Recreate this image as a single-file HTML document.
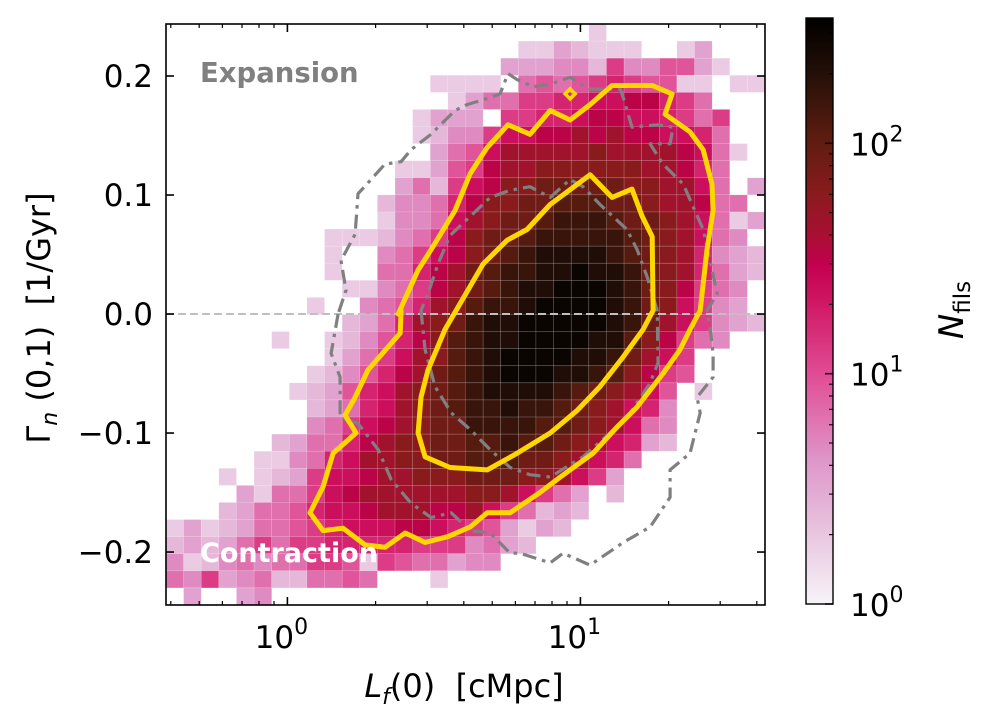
<!DOCTYPE html>
<html><head><meta charset="utf-8"><style>
html,body{margin:0;padding:0;background:#fff;}
svg text{font-family:"DejaVu Sans","Liberation Sans",sans-serif;}
</style></head><body>
<svg id="chart" width="985" height="717" viewBox="0 0 985 717" xmlns="http://www.w3.org/2000/svg">
<defs>
<linearGradient id="cbgrad" x1="0" y1="1" x2="0" y2="0"></linearGradient>
<clipPath id="plotclip"><rect x="166" y="24" width="599" height="581"/></clipPath>
</defs>
<g id="cells" clip-path="url(#plotclip)"></g>
<g id="overlay" clip-path="url(#plotclip)"></g>
<g id="axes"></g>
<g id="cbar"></g>
</svg>
<script>
// ---- data ----
const xLogMin = -0.4143, xLogMax = 1.6300;
const yMin = -0.2445, yMax = 0.2437;
const nBins = 34;
// half-level codes per cell (char value/2 = level), row 0 = top
const gridRows = [
"0000000000000000000000002000000000",
"0000000000000000000022432220024000",
"0000000000000000000444553855774200",
"0000000000000002222067678987722022",
"000000000000000024668899aabb986000",
"00000000000000244408899abbaa986800",
"0000000000000023558aabbcbcbbaa9600",
"000000000000000467acccccdccccba620",
"000000000000022478bccddddddccb9600",
"00000000000004638abddeeeeeddcca604",
"00000000000035569bddeefffeedccb660",
"0000000000002556acdeefgggfeedca624",
"0000000002223568bdeefgggggfedca650",
"000000000200568abdefghhhhgfedc9543",
"000000000200669bcefgghhihhgedc9643",
"000000000022568bcefghhiiihgedb8650",
"000000002005679cdfgghiiiihgeda8540",
"00000000003469cdeghhiiiiihgeca8543",
"00000020023579bdfghhiiiihhfdb86500",
"0000000002468acdfghiiiihhgeca80000",
"0000000023579bcefghiiihhgfdb870000",
"000000023479acdefghhhhgfedca702000",
"000000003469acdefgghggfedca9500000",
"00000000568abcdeeggggffedca6500000",
"00000034669bcddeeffgffedca94300000",
"0000022569accddeefffeedca960000000",
"000202348aabccdddeeeddca8400000000",
"000042668abccccccddca8640300000000",
"000346679aabcccbbca863430000000000",
"2423466789aaabba987424300000000000",
"3434686889999988856430000000000000",
"5235656688728766455000000000000000",
"6584563366760002000000000000000000",
"0400450000000000000000000000000000"
];
const xTickValues = [1, 10];
const xTickLabels = ["0", "1"];
const xMinorValues = [0.4,0.5,0.6,0.7,0.8,0.9,2,3,4,5,6,7,8,9,20,30,40];
const yTickValues = [-0.2, -0.1, 0.0, 0.1, 0.2];
const yTickLabels = ["\u22120.2", "\u22120.1", "0.0", "0.1", "0.2"];
const cbMax = 350;
const cbTickValues = [1, 10, 100];
const cbTickLabels = ["0", "1", "2"];
const cbMinorValues = [2,3,4,5,6,7,8,9,20,30,40,50,60,70,80,90,200,300];
// contours (log10 L, Gamma)
const yellowOuterX = [0.388,0.385,0.275,0.231,0.197,0.234,0.156,0.122,0.077,0.122,0.190,0.265,0.333,0.402,0.470,0.548,0.624,0.682,0.760,0.862,0.931,1.043,1.125,1.194,1.282,1.340,1.374,1.409,1.432,1.453,1.449,1.419,1.374,1.289,1.313,1.245,1.108,1.033,0.965,0.897,0.828,0.753,0.682,0.624,0.572,0.490,0.446,0.378];
const yellowOuterY = [0.003,-0.016,-0.047,-0.070,-0.085,-0.100,-0.117,-0.145,-0.167,-0.182,-0.180,-0.194,-0.196,-0.184,-0.192,-0.187,-0.179,-0.167,-0.167,-0.150,-0.137,-0.117,-0.095,-0.078,-0.050,-0.030,-0.013,0.003,0.054,0.087,0.109,0.138,0.153,0.168,0.185,0.192,0.192,0.176,0.163,0.171,0.151,0.159,0.140,0.118,0.087,0.054,0.037,0.000];
const yellowIslandX = [0.965];
const yellowIslandY = [0.185];
const yellowInnerX = [0.583,0.668,0.750,0.818,0.897,1.033,1.108,1.176,1.211,1.245,1.248,1.214,1.146,1.067,0.989,0.897,0.784,0.682,0.555,0.470,0.446,0.456,0.480,0.538];
const yellowInnerY = [0.006,0.042,0.062,0.071,0.092,0.117,0.098,0.105,0.082,0.065,0.003,-0.013,-0.036,-0.061,-0.081,-0.100,-0.117,-0.131,-0.129,-0.120,-0.100,-0.070,-0.047,-0.013];
const grayInnerX = [0.456,0.470,0.504,0.559,0.624,0.692,0.760,0.828,0.897,1.009,1.101,1.170,1.238,1.265,1.262,1.228,1.194,1.159,1.067,1.009,0.965,0.897,0.828,0.760,0.692,0.624,0.555,0.514,0.480];
const grayInnerY = [0.003,-0.030,-0.061,-0.083,-0.097,-0.114,-0.129,-0.135,-0.137,-0.120,-0.100,-0.083,-0.058,-0.041,0.003,0.031,0.054,0.071,0.092,0.107,0.113,0.098,0.107,0.104,0.098,0.082,0.066,0.042,0.017];
const grayOuterX = [0.173,0.149,0.180,0.180,0.241,0.310,0.354,0.422,0.490,0.559,0.624,0.692,0.760,0.794,0.897,0.941,1.033,1.146,1.238,1.306,1.306,1.374,1.409,1.398,1.453,1.453,1.443,1.432,1.467,1.419,1.351,1.282,1.238,1.306,1.316,1.262,1.176,1.146,1.136,1.033,0.965,0.897,0.839,0.784,0.753,0.726,0.668,0.613,0.572,0.490,0.422,0.388,0.333,0.241,0.231,0.183,0.200];
const grayOuterY = [0.000,-0.033,-0.053,-0.087,-0.092,-0.114,-0.139,-0.159,-0.171,-0.167,-0.182,-0.184,-0.201,-0.201,-0.209,-0.201,-0.211,-0.192,-0.179,-0.154,-0.131,-0.117,-0.083,-0.070,-0.053,-0.033,-0.013,0.003,0.017,0.071,0.109,0.126,0.143,0.143,0.157,0.159,0.157,0.182,0.189,0.189,0.199,0.193,0.191,0.197,0.202,0.185,0.180,0.176,0.171,0.151,0.138,0.128,0.126,0.101,0.067,0.045,0.020];

// ---- scales ----
const PX0=166, PX1=765, PY0=24, PY1=605;
function xs(lx){ return PX0 + (lx - xLogMin)/(xLogMax - xLogMin)*(PX1-PX0); }
function ys(v){ return PY1 - (v - yMin)/(yMax - yMin)*(PY1-PY0); }
const CBX=806, CBW=27, CBY0=18, CBY1=604;
function cs(c){ return CBY1 - Math.log10(c)/Math.log10(cbMax)*(CBY1-CBY0); }
const stops=[[0,"#f7f3f8"],[0.12,"#e8c6e0"],[0.24,"#df98ca"],[0.39,"#e04d95"],[0.52,"#cf1562"],[0.58,"#c20050"],[0.63,"#a80f32"],[0.70,"#8a1b1d"],[0.80,"#5a1c10"],[0.90,"#261008"],[1,"#000000"]];
function hex(h){return [parseInt(h.substr(1,2),16),parseInt(h.substr(3,2),16),parseInt(h.substr(5,2),16)];}
function cmap(t){
  t=Math.max(0,Math.min(1,t));
  for(let i=1;i<stops.length;i++){ if(t<=stops[i][0]){ const a=stops[i-1],b=stops[i]; const f=(t-a[0])/(b[0]-a[0]); const A=hex(a[1]),B=hex(b[1]); return "rgb("+A.map((v,k)=>Math.round(v+(B[k]-v)*f)).join(",")+")"; } }
  return stops[stops.length-1][1];
}
function levelCount(l){ return Math.pow(10, 0.27 + (l-1)*0.275); }
const NS="http://www.w3.org/2000/svg";
function mk(tag, attrs, parent){ const e=document.createElementNS(NS,tag); for(const k in attrs) e.setAttribute(k,attrs[k]); parent.appendChild(e); return e; }

// ---- cells ----
const cellsG=document.getElementById('cells');
const codes="0123456789abcdefghi";
const dx=(xLogMax-xLogMin)/nBins, dy=(yMax-yMin)/nBins;
gridRows.forEach((row,r)=>{
  for(let c=0;c<nBins;c++){
    const v=codes.indexOf(row[c]);
    if(v<=0) continue;
    const lvl=v/2, cnt=levelCount(lvl);
    const x0=xs(xLogMin+c*dx), x1=xs(xLogMin+(c+1)*dx);
    const yTop=ys(yMax-r*dy), yBot=ys(yMax-(r+1)*dy);
    const rc=mk('rect',{x:x0,y:yTop,width:x1-x0,height:yBot-yTop,fill:cmap(Math.log10(cnt)/Math.log10(cbMax)),stroke:"rgba(255,255,255,0.22)","stroke-width":0.6},cellsG);
    
    
  }
});

// ---- overlay ----
const ov=document.getElementById('overlay');
const zl=mk('line',{x1:PX0,x2:PX1,y1:ys(0),y2:ys(0),stroke:"#c0c0c0","stroke-width":2,"stroke-dasharray":"8,4"},ov);


function poly(xa,ya,name,stroke,w,dash){
  const pts=xa.map((x,i)=>xs(x).toFixed(1)+","+ys(ya[i]).toFixed(1)).join(" ");
  const p=mk('polygon',{points:pts,fill:"none",stroke:stroke,"stroke-width":w,"stroke-linejoin":"round"},ov);
  if(dash) p.setAttribute('stroke-dasharray',dash);
  
  
}
poly(grayOuterX,grayOuterY,'gray-outer-contour',"#808080",3.2,"14,6,3.5,6");
poly(grayInnerX,grayInnerY,'gray-inner-contour',"#808080",3.2,"14,6,3.5,6");
poly(yellowOuterX,yellowOuterY,'yellow-outer-contour',"#ffd700",5,null);
poly(yellowInnerX,yellowInnerY,'yellow-inner-contour',"#ffd700",5,null);
yellowIslandX.forEach((x,i)=>{
  const cx=xs(x), cy=ys(yellowIslandY[i]);
  const d=mk('polygon',{points:`${cx-5},${cy} ${cx},${cy-5} ${cx+5},${cy} ${cx},${cy+5}`,fill:"none",stroke:"#ffd700","stroke-width":3.5},ov);
  
  
});
const t1=mk('text',{x:200,y:82,"font-size":27.5,"font-weight":"bold",fill:"#808080"},ov);
t1.textContent="Expansion";


const t2=mk('text',{x:200,y:562,"font-size":27,"font-weight":"bold",fill:"#ffffff"},ov);
t2.textContent="Contraction";



// ---- axes ----
const ax=document.getElementById('axes');
const frame=mk('rect',{x:PX0,y:PY0,width:PX1-PX0,height:PY1-PY0,fill:"none",stroke:"#000","stroke-width":1.6},ax);


xMinorValues.forEach(v=>{
  const x=xs(Math.log10(v));
  mk('line',{x1:x,x2:x,y1:PY1,y2:PY1-4,stroke:"#000","stroke-width":1.2},ax);
  mk('line',{x1:x,x2:x,y1:PY0,y2:PY0+4,stroke:"#000","stroke-width":1.2},ax);
});
xTickValues.forEach((v,i)=>{
  const x=xs(Math.log10(v));
  mk('line',{x1:x,x2:x,y1:PY1,y2:PY1-8,stroke:"#000","stroke-width":1.6},ax);
  mk('line',{x1:x,x2:x,y1:PY0,y2:PY0+8,stroke:"#000","stroke-width":1.6},ax);
  const t=mk('text',{x:x-6,y:648,"font-size":31,"text-anchor":"middle"},ax);
  t.innerHTML='10<tspan dy="-14" font-size="22">'+xTickLabels[i]+'</tspan>';
  
  
});
yTickValues.forEach((v,i)=>{
  const y=ys(v);
  mk('line',{x1:PX0,x2:PX0+8,y1:y,y2:y,stroke:"#000","stroke-width":1.6},ax);
  mk('line',{x1:PX1,x2:PX1-8,y1:y,y2:y,stroke:"#000","stroke-width":1.6},ax);
  const t=mk('text',{x:153,y:y+11,"font-size":31,"text-anchor":"end"},ax);
  t.textContent=yTickLabels[i];
  
  
});
const xl=mk('text',{x:464,y:697,"font-size":32,"text-anchor":"middle"},ax);
xl.innerHTML='<tspan font-style="italic">L</tspan><tspan font-style="italic" font-size="22" dy="7">f</tspan><tspan dy="-7">(0)\u00a0\u00a0[cMpc]</tspan>';


const yl=mk('text',{x:0,y:0,"font-size":32,"text-anchor":"middle",transform:"translate(50,318) rotate(-90)"},ax);
yl.innerHTML='<tspan>Γ</tspan><tspan font-style="italic" font-size="22" dy="7">n</tspan><tspan dy="-7">\u00a0(0,1)\u00a0\u00a0[1/Gyr]</tspan>';



// ---- colorbar ----
const grad=document.getElementById('cbgrad');
stops.forEach(s=>{ mk('stop',{offset:s[0],"stop-color":s[1]},grad); });
const cb=document.getElementById('cbar');
const cbr=mk('rect',{x:CBX,y:CBY0,width:CBW,height:CBY1-CBY0,fill:"url(#cbgrad)",stroke:"#000","stroke-width":1.4},cb);


cbMinorValues.forEach(v=>{ const y=cs(v); mk('line',{x1:CBX+CBW,x2:CBX+CBW-4,y1:y,y2:y,stroke:"#000","stroke-width":1.1},cb); });
cbTickValues.forEach((v,i)=>{
  const y=cs(v);
  mk('line',{x1:CBX+CBW,x2:CBX+CBW-8,y1:y,y2:y,stroke:"#000","stroke-width":1.5},cb);
  const t=mk('text',{x:850,y:y+12,"font-size":31},cb);
  t.innerHTML='10<tspan dy="-14" font-size="22">'+cbTickLabels[i]+'</tspan>';
  
  
});
const cl=mk('text',{x:0,y:0,"font-size":34,"text-anchor":"middle",transform:"translate(963,310) rotate(-90)"},cb);
cl.innerHTML='<tspan font-style="italic">N</tspan><tspan font-size="23" dy="7">fils</tspan>';


</script>
</body></html>
